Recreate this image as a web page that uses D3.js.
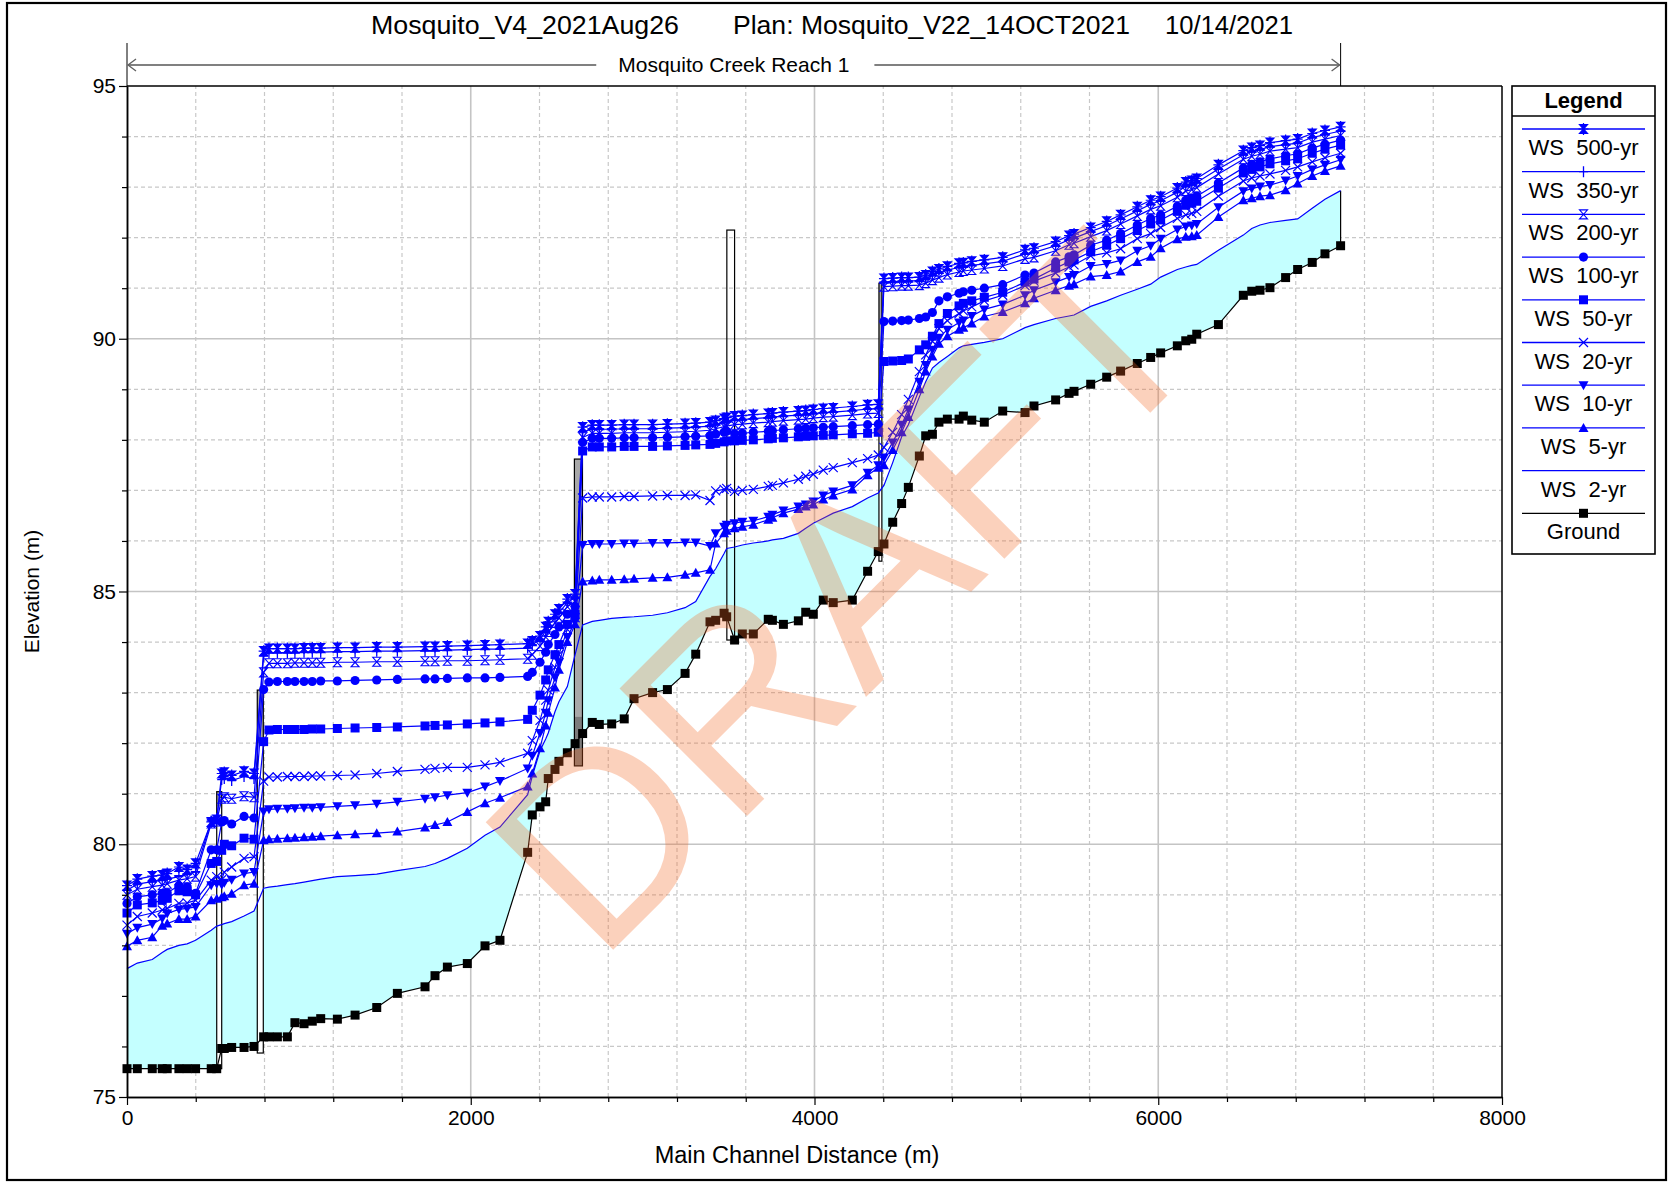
<!DOCTYPE html>
<html><head><meta charset="utf-8">
<script src="https://cdn.jsdelivr.net/npm/d3@7"></script>
<style>
html,body{margin:0;padding:0;background:#fff;}
svg{display:block;font-family:"Liberation Sans",Arial,sans-serif;}
text{white-space:pre;}
</style></head><body>
<svg id="chart" width="1671" height="1182"></svg>
<script>
// ---------------- DATA ----------------
const titleParts = ["Mosquito_V4_2021Aug26", "Plan: Mosquito_V22_14OCT2021", "10/14/2021"];
const reachName = "Mosquito Creek Reach 1";
const reachExtent = [0, 7061];
const xLabel = "Main Channel Distance (m)";
const yLabel = "Elevation (m)";
const xTicks = [0, 2000, 4000, 6000, 8000];
const yTicks = [75, 80, 85, 90, 95];
const watermark = "DRAFT";

const stations = [
  0, 60, 147, 205, 234, 302, 350, 399, 490, 522,
  551, 566, 609, 681, 739,
  795, 826, 875, 933, 977, 1030, 1078, 1127, 1224, 1327, 1453, 1573, 1734, 1792, 1864, 1980, 2083, 2170, 2331, 2358, 2403, 2436, 2451, 2490, 2513, 2562, 2607,
  2651, 2707, 2748, 2820, 2893, 2950, 3058, 3144, 3247, 3309, 3392, 3425, 3474, 3489,
  3535, 3580, 3644, 3731, 3755, 3819, 3906, 3949, 3993, 4051, 4109, 4220, 4309, 4371,
  4404, 4455, 4507, 4546, 4610, 4647, 4686, 4724, 4773, 4841, 4866, 4915, 4988, 5095, 5225, 5277, 5403, 5481, 5510, 5607, 5700, 5781, 5878, 5956, 6014, 6111, 6160, 6195, 6224, 6350, 6495, 6544, 6592, 6650, 6741, 6811, 6896, 6970, 7061
];
const ground = [
  75.56, 75.56, 75.56, 75.56, 75.56, 75.56, 75.56, 75.56, 75.56, 75.56,
  75.96, 75.96, 75.98, 75.98, 76.00,
  76.19, 76.19, 76.19, 76.19, 76.47, 76.45, 76.50, 76.55, 76.54, 76.62, 76.77, 77.05, 77.18, 77.40, 77.57, 77.64, 77.99, 78.10, 79.84, 80.58, 80.74, 80.84, 81.30, 81.48, 81.64, 81.81, 81.99,
  82.19, 82.41, 82.37, 82.38, 82.48, 82.88, 83.00, 83.06, 83.38, 83.76, 84.40, 84.43, 84.57, 84.50,
  84.04, 84.16, 84.16, 84.45, 84.43, 84.35, 84.42, 84.59, 84.55, 84.83, 84.78, 84.83, 85.40, 85.79,
  85.94, 86.37, 86.74, 87.06, 87.68, 88.08, 88.11, 88.35, 88.41, 88.41, 88.47, 88.39, 88.35, 88.57, 88.54, 88.67, 88.79, 88.92, 88.96, 89.10, 89.24, 89.36, 89.51, 89.63, 89.72, 89.86, 89.96, 89.99, 90.09, 90.28, 90.86, 90.94, 90.96, 91.01, 91.21, 91.37, 91.51, 91.68, 91.84
];
const ws2 = [
  77.54, 77.65, 77.72, 77.86, 77.92, 78.00, 78.03, 78.10, 78.30, 78.38,
  78.41, 78.43, 78.47, 78.58, 78.68,
  79.13, 79.15, 79.17, 79.20, 79.22, 79.25, 79.28, 79.31, 79.36, 79.38, 79.41, 79.48, 79.56, 79.62, 79.72, 79.92, 80.18, 80.34, 80.98, 81.35, 81.85, 82.08, 82.20, 82.62, 82.82, 83.12, 83.75,
  84.34, 84.41, 84.43, 84.47, 84.49, 84.50, 84.53, 84.58, 84.68, 84.80, 85.30, 85.45, 85.75, 85.85,
  85.88, 85.92, 85.96, 86.00, 86.02, 86.05, 86.15, 86.25, 86.35, 86.45, 86.55, 86.68, 86.85, 86.95,
  87.10, 87.55, 88.06, 88.30, 88.85, 89.15, 89.42, 89.53, 89.65, 89.82, 89.86, 89.89, 89.93, 90.00, 90.22, 90.28, 90.40, 90.45, 90.47, 90.64, 90.75, 90.86, 90.98, 91.08, 91.22, 91.37, 91.42, 91.45, 91.47, 91.75, 92.05, 92.18, 92.25, 92.30, 92.34, 92.37, 92.58, 92.76, 92.93
];
const ws5 = [
  77.98, 78.10, 78.16, 78.39, 78.43, 78.52, 78.52, 78.57, 78.89, 78.92,
  78.95, 78.97, 79.02, 79.19, 79.22,
  80.08, 80.10, 80.11, 80.12, 80.13, 80.14, 80.15, 80.16, 80.18, 80.20, 80.22, 80.25, 80.33, 80.38, 80.44, 80.64, 80.81, 80.92, 81.14, 81.40, 81.90, 82.35, 82.60, 83.10, 83.45, 84.00, 84.35,
  85.20, 85.22, 85.23, 85.23, 85.24, 85.25, 85.27, 85.28, 85.33, 85.37, 85.43, 85.95, 86.15, 86.20,
  86.25, 86.28, 86.32, 86.42, 86.46, 86.55, 86.63, 86.68, 86.72, 86.82, 86.90, 87.02, 87.30, 87.45,
  87.50, 87.80, 88.15, 88.45, 89.00, 89.35, 89.65, 89.90, 90.05, 90.18, 90.22, 90.30, 90.44, 90.53, 90.70, 90.80, 90.96, 91.05, 91.08, 91.23, 91.26, 91.33, 91.52, 91.62, 91.79, 91.97, 92.02, 92.03, 92.05, 92.41, 92.74, 92.78, 92.82, 92.84, 92.94, 93.07, 93.22, 93.32, 93.42
];
const ws10 = [
  78.23, 78.35, 78.42, 78.53, 78.63, 78.71, 78.73, 78.76, 79.19, 79.22,
  79.20, 79.24, 79.30, 79.42, 79.45,
  80.65, 80.69, 80.70, 80.70, 80.71, 80.72, 80.72, 80.73, 80.75, 80.77, 80.80, 80.84, 80.90, 80.93, 80.97, 81.02, 81.14, 81.25, 81.50, 81.75, 82.20, 82.60, 82.85, 83.30, 83.60, 84.10, 84.40,
  85.92, 85.94, 85.94, 85.94, 85.95, 85.95, 85.96, 85.96, 85.97, 85.97, 85.90, 86.15, 86.28, 86.32,
  86.35, 86.38, 86.40, 86.48, 86.52, 86.60, 86.68, 86.72, 86.78, 86.90, 86.98, 87.10, 87.35, 87.50,
  87.65, 87.95, 88.30, 88.60, 89.15, 89.48, 89.78, 90.02, 90.18, 90.32, 90.36, 90.45, 90.58, 90.68, 90.86, 90.96, 91.12, 91.22, 91.26, 91.44, 91.48, 91.55, 91.74, 91.84, 91.98, 92.16, 92.22, 92.24, 92.27, 92.60, 92.92, 92.97, 93.01, 93.04, 93.13, 93.22, 93.35, 93.44, 93.54
];
const ws20 = [
  78.40, 78.57, 78.64, 78.70, 78.73, 78.83, 78.84, 78.89, 79.29, 79.36,
  79.30, 79.45, 79.55, 79.72, 79.75,
  81.25, 81.33, 81.33, 81.34, 81.34, 81.34, 81.35, 81.35, 81.36, 81.37, 81.40, 81.44, 81.48, 81.50, 81.52, 81.52, 81.57, 81.62, 81.80, 82.05, 82.45, 82.85, 83.05, 83.50, 83.75, 84.25, 84.48,
  86.85, 86.87, 86.87, 86.87, 86.88, 86.88, 86.89, 86.90, 86.90, 86.91, 86.80, 86.99, 87.02, 87.04,
  86.98, 87.00, 87.02, 87.08, 87.10, 87.15, 87.22, 87.28, 87.32, 87.40, 87.45, 87.55, 87.63, 87.70,
  87.85, 88.15, 88.50, 88.80, 89.35, 89.68, 89.95, 90.20, 90.36, 90.50, 90.55, 90.63, 90.75, 90.86, 91.05, 91.14, 91.30, 91.42, 91.46, 91.64, 91.70, 91.78, 91.98, 92.08, 92.20, 92.38, 92.45, 92.48, 92.52, 92.82, 93.12, 93.18, 93.22, 93.26, 93.33, 93.40, 93.50, 93.58, 93.67
];
const ws50 = [
  78.64, 78.80, 78.84, 78.89, 78.93, 79.08, 79.06, 79.00, 79.62, 79.66,
  79.88, 80.00, 79.97, 80.12, 80.10,
  82.03, 82.26, 82.27, 82.27, 82.27, 82.27, 82.28, 82.28, 82.29, 82.30, 82.31, 82.32, 82.34, 82.35, 82.36, 82.38, 82.40, 82.42, 82.47, 82.65, 82.95, 83.25, 83.45, 83.75, 83.95, 84.35, 84.55,
  87.78, 87.86, 87.86, 87.86, 87.87, 87.87, 87.87, 87.88, 87.89, 87.90, 87.91, 87.93, 87.96, 87.98,
  87.98, 87.99, 88.00, 88.02, 88.03, 88.04, 88.06, 88.07, 88.08, 88.09, 88.10, 88.12, 88.13, 88.15,
  89.55, 89.56, 89.57, 89.60, 89.78, 89.88, 90.05, 90.30, 90.50, 90.65, 90.70, 90.75, 90.82, 90.92, 91.12, 91.18, 91.40, 91.52, 91.56, 91.72, 91.85, 91.98, 92.14, 92.27, 92.35, 92.52, 92.64, 92.68, 92.72, 92.98, 93.28, 93.35, 93.40, 93.46, 93.52, 93.56, 93.67, 93.75, 93.83
];
const ws100 = [
  78.83, 78.96, 79.00, 79.03, 79.04, 79.18, 79.16, 79.03, 79.89, 79.89,
  80.44, 80.47, 80.40, 80.55, 80.52,
  83.06, 83.21, 83.22, 83.22, 83.22, 83.22, 83.22, 83.23, 83.23, 83.24, 83.25, 83.26, 83.27, 83.27, 83.28, 83.29, 83.29, 83.30, 83.32, 83.40, 83.60, 83.80, 83.95, 84.15, 84.30, 84.55, 84.70,
  87.95, 88.03, 88.03, 88.03, 88.04, 88.04, 88.04, 88.05, 88.06, 88.07, 88.08, 88.11, 88.15, 88.17,
  88.12, 88.13, 88.15, 88.17, 88.18, 88.20, 88.22, 88.23, 88.24, 88.25, 88.26, 88.28, 88.30, 88.31,
  90.34, 90.35, 90.36, 90.37, 90.40, 90.43, 90.52, 90.75, 90.83, 90.90, 90.93, 90.96, 91.00, 91.07, 91.26, 91.30, 91.52, 91.62, 91.66, 91.85, 91.95, 92.08, 92.25, 92.38, 92.45, 92.62, 92.74, 92.78, 92.82, 93.08, 93.38, 93.45, 93.50, 93.56, 93.62, 93.66, 93.77, 93.85, 93.93
];
const ws200 = [
  79.00, 79.11, 79.16, 79.19, 79.22, 79.29, 79.32, 79.36, 80.41, 80.45,
  80.90, 80.93, 80.90, 80.95, 80.93,
  83.40, 83.58, 83.58, 83.58, 83.59, 83.59, 83.59, 83.59, 83.60, 83.60, 83.61, 83.61, 83.62, 83.62, 83.63, 83.63, 83.64, 83.65, 83.67, 83.75, 83.92, 84.10, 84.20, 84.38, 84.48, 84.70, 84.80,
  88.05, 88.13, 88.13, 88.13, 88.14, 88.14, 88.14, 88.15, 88.16, 88.17, 88.19, 88.22, 88.26, 88.27,
  88.30, 88.31, 88.33, 88.35, 88.36, 88.38, 88.40, 88.41, 88.43, 88.45, 88.46, 88.49, 88.52, 88.53,
  91.03, 91.04, 91.05, 91.05, 91.06, 91.10, 91.16, 91.21, 91.27, 91.32, 91.34, 91.36, 91.39, 91.44, 91.58, 91.61, 91.74, 91.86, 91.89, 92.02, 92.14, 92.27, 92.43, 92.56, 92.63, 92.80, 92.92, 92.95, 92.99, 93.26, 93.55, 93.61, 93.65, 93.71, 93.75, 93.78, 93.89, 93.95, 94.02
];
const ws350 = [
  79.09, 79.21, 79.26, 79.29, 79.31, 79.36, 79.40, 79.46, 80.46, 80.50,
  81.28, 81.30, 81.26, 81.34, 81.30,
  83.72, 83.79, 83.79, 83.79, 83.79, 83.80, 83.80, 83.80, 83.81, 83.81, 83.82, 83.82, 83.83, 83.83, 83.84, 83.85, 83.86, 83.86, 83.88, 83.95, 84.05, 84.22, 84.33, 84.48, 84.58, 84.78, 84.88,
  88.16, 88.21, 88.21, 88.21, 88.22, 88.22, 88.22, 88.23, 88.24, 88.25, 88.27, 88.30, 88.34, 88.36,
  88.39, 88.40, 88.42, 88.44, 88.45, 88.47, 88.49, 88.50, 88.52, 88.54, 88.55, 88.58, 88.61, 88.62,
  91.12, 91.13, 91.13, 91.14, 91.15, 91.18, 91.25, 91.30, 91.36, 91.41, 91.43, 91.45, 91.48, 91.53, 91.68, 91.71, 91.84, 91.96, 91.99, 92.12, 92.24, 92.37, 92.53, 92.66, 92.73, 92.90, 93.02, 93.05, 93.09, 93.36, 93.64, 93.70, 93.74, 93.80, 93.84, 93.87, 93.98, 94.04, 94.11
];
const ws500 = [
  79.18, 79.31, 79.37, 79.39, 79.42, 79.55, 79.50, 79.62, 80.44, 80.49,
  81.40, 81.42, 81.36, 81.44, 81.40,
  83.82, 83.87, 83.87, 83.87, 83.87, 83.88, 83.88, 83.88, 83.89, 83.89, 83.90, 83.90, 83.91, 83.91, 83.92, 83.93, 83.94, 83.95, 83.97, 84.02, 84.12, 84.30, 84.40, 84.55, 84.65, 84.85, 84.95,
  88.25, 88.29, 88.29, 88.29, 88.30, 88.30, 88.30, 88.31, 88.32, 88.33, 88.35, 88.38, 88.42, 88.44,
  88.47, 88.48, 88.50, 88.52, 88.53, 88.55, 88.57, 88.58, 88.60, 88.62, 88.63, 88.66, 88.69, 88.70,
  91.19, 91.20, 91.21, 91.21, 91.22, 91.26, 91.33, 91.38, 91.43, 91.49, 91.50, 91.53, 91.56, 91.61, 91.76, 91.79, 91.92, 92.04, 92.07, 92.20, 92.32, 92.45, 92.61, 92.74, 92.81, 92.98, 93.10, 93.13, 93.17, 93.44, 93.72, 93.78, 93.82, 93.88, 93.92, 93.95, 94.06, 94.12, 94.19
];

// hydraulic structures (bridges / culverts)
const structLeft   = [522, 758, 2603, 3490, 4375];
const structRight  = [551, 793, 2650, 3535, 4392];
const structTop    = [81.04, 83.05, 87.62, 92.15, 91.10];
const structBottom = [75.56, 75.87, 81.55, 84.04, 85.60];
const structDeckLow = [80.75, 82.00, 82.52, 92.15, 89.60];

const legendNames = ["WS  500-yr","WS  350-yr","WS  200-yr","WS  100-yr","WS  50-yr","WS  20-yr","WS  10-yr","WS  5-yr","WS  2-yr","Ground"];

// ---------------- CHART ----------------
const svg = d3.select("#chart");
const FONT = '"Liberation Sans", Arial, sans-serif';
const BLUE = "#0000ff";
const M = {left:127, right:1502, top:86, bottom:1097};
const x = d3.scaleLinear().domain([0, 8000]).range([M.left, M.right]);
const y = d3.scaleLinear().domain([75, 95]).range([M.bottom, M.top]);

// outer frame
svg.append("rect").attr("x",7).attr("y",3).attr("width",1659).attr("height",1177)
  .attr("fill","#fff").attr("stroke","#000").attr("stroke-width",2.2);

// grid
const grid = svg.append("g");
d3.range(400, 8000, 400).forEach(v => {
  const major = v % 2000 === 0;
  grid.append("line").attr("x1",x(v)).attr("x2",x(v)).attr("y1",y(75)).attr("y2",y(95))
    .attr("stroke", major ? "#c4c4c4" : "#c8c8c8").attr("stroke-width", major ? 1.6 : 1.2)
    .attr("stroke-dasharray", major ? null : "4,3");
});
d3.range(76, 95, 1).forEach(v => {
  const major = v % 5 === 0;
  grid.append("line").attr("x1",x(0)).attr("x2",x(8000)).attr("y1",y(v)).attr("y2",y(v))
    .attr("stroke", major ? "#c4c4c4" : "#c8c8c8").attr("stroke-width", major ? 1.6 : 1.2)
    .attr("stroke-dasharray", major ? null : "4,3");
});

// 2-yr water fill
const idx = d3.range(stations.length);
const area = d3.area().x(i => x(stations[i])).y0(i => y(ground[i])).y1(i => y(ws2[i]));
svg.append("path").attr("d", area(idx)).attr("fill","#c4ffff").attr("stroke","none");
const last = stations.length - 1;
svg.append("line").attr("x1",x(stations[last])).attr("x2",x(stations[last]))
  .attr("y1",y(ground[last])).attr("y2",y(ws2[last])).attr("stroke","#000").attr("stroke-width",1.2);

// structures
const sg = svg.append("g");
structLeft.forEach((l, k) => {
  const r = structRight[k];
  const open = k === 3;
  sg.append("rect").attr("x",x(l)).attr("y",y(structTop[k]))
    .attr("width",x(r)-x(l)).attr("height",y(structBottom[k])-y(structTop[k]))
    .attr("fill", open ? "none" : (k === 2 ? "#b0b0b0" : "#ffffff"));
  if (!open) {
    sg.append("rect").attr("x",x(l)).attr("y",y(structTop[k]))
      .attr("width",x(r)-x(l)).attr("height",y(structDeckLow[k])-y(structTop[k]))
      .attr("fill","#a8a8a8");
  }
  if (k === 2) {
    sg.append("rect").attr("x",x(l)).attr("y",y(structDeckLow[k]))
      .attr("width",x(r)-x(l)).attr("height",y(structBottom[k])-y(structDeckLow[k]))
      .attr("fill","#7c7c7c");
  }
  sg.append("rect").attr("x",x(l)).attr("y",y(structTop[k]))
    .attr("width",x(r)-x(l)).attr("height",y(structBottom[k])-y(structTop[k]))
    .attr("fill","none").attr("stroke","#000").attr("stroke-width",1.2);
});

// marker shapes
const SYM = {
  star: "M-4,-4.5L4,-4.5L-4,4.5L4,4.5Z M0,-6V6 M-5,0H5",
  plus: "M0,-5.5V5.5M-4.5,0H4.5",
  hourglass: "M-4,-4.5H4L-4,4.5H4Z",
  circle: d3.symbol(d3.symbolCircle, 66)(),
  square: "M-4.5,-4.5H4.5V4.5H-4.5Z",
  cross: "M-4.5,-4.5L4.5,4.5M-4.5,4.5L4.5,-4.5",
  tdown: "M-5,-4H5L0,5Z",
  tup: "M-5,4H5L0,-5Z",
  gsquare: "M-4.5,-4.5H4.5V4.5H-4.5Z"
};
const STYLE = {
  star: {fill:BLUE, stroke:BLUE, sw:1.2},
  plus: {fill:"none", stroke:BLUE, sw:1.3},
  hourglass: {fill:"none", stroke:BLUE, sw:1.1},
  circle: {fill:BLUE, stroke:"none", sw:0},
  square: {fill:BLUE, stroke:"none", sw:0},
  cross: {fill:"none", stroke:BLUE, sw:1.2},
  tdown: {fill:BLUE, stroke:"none", sw:0},
  tup: {fill:BLUE, stroke:"none", sw:0},
  gsquare: {fill:"#000", stroke:"none", sw:0}
};

const series = [
  {name:legendNames[0], values:ws500, sym:"star",      color:BLUE},
  {name:legendNames[1], values:ws350, sym:"plus",      color:BLUE},
  {name:legendNames[2], values:ws200, sym:"hourglass", color:BLUE},
  {name:legendNames[3], values:ws100, sym:"circle",    color:BLUE},
  {name:legendNames[4], values:ws50,  sym:"square",    color:BLUE},
  {name:legendNames[5], values:ws20,  sym:"cross",     color:BLUE},
  {name:legendNames[6], values:ws10,  sym:"tdown",     color:BLUE},
  {name:legendNames[7], values:ws5,   sym:"tup",       color:BLUE},
  {name:legendNames[8], values:ws2,   sym:null,        color:BLUE},
  {name:legendNames[9], values:ground,sym:"gsquare",   color:"#000"}
];

const line = vals => d3.line().defined(i => vals[i] != null).x(i => x(stations[i])).y(i => y(vals[i]))(idx);

function drawMarker(g, sym, px, py) {
  const st = STYLE[sym];
  g.append("path").attr("d", SYM[sym]).attr("transform", `translate(${px},${py})`)
    .attr("fill", st.fill).attr("stroke", st.stroke).attr("stroke-width", st.sw);
}

// draw ground first, then WS from 2-yr upward
const plotG = svg.append("g");
[9, 8, 7, 6, 5, 4, 3, 2, 1, 0].forEach(si => {
  const s = series[si];
  plotG.append("path").attr("d", line(s.values)).attr("fill","none")
    .attr("stroke", s.color).attr("stroke-width", 1.2);
  if (s.sym) {
    const mg = plotG.append("g");
    idx.forEach(i => { if (s.values[i] != null) drawMarker(mg, s.sym, x(stations[i]), y(s.values[i])); });
  }
});

// axes
function styleAxis(g) {
  g.selectAll("path.domain").attr("stroke","#000").attr("stroke-width",1.5);
  g.selectAll(".tick line").attr("stroke","#000").attr("stroke-width",1.2);
  g.selectAll(".tick text").attr("font-size",21).attr("font-family",FONT).attr("fill","#000");
}
const xMinorAxis = d3.axisBottom(x).tickValues(d3.range(400, 8000, 400).filter(v => v % 2000)).tickSize(5).tickSizeOuter(0).tickFormat("");
const xMajorAxis = d3.axisBottom(x).tickValues(xTicks).tickSize(8).tickSizeOuter(0).tickPadding(5).tickFormat(d3.format("d"));
const yMinorAxis = d3.axisLeft(y).tickValues(d3.range(76, 95).filter(v => v % 5)).tickSize(5).tickSizeOuter(0).tickFormat("");
const yMajorAxis = d3.axisLeft(y).tickValues(yTicks).tickSize(8).tickSizeOuter(0).tickPadding(3).tickFormat(d3.format("d"));
svg.append("g").attr("transform",`translate(0,${M.bottom})`).call(xMinorAxis).call(styleAxis);
svg.append("g").attr("transform",`translate(0,${M.bottom})`).call(xMajorAxis).call(styleAxis);
svg.append("g").attr("transform",`translate(${M.left},0)`).call(yMinorAxis).call(styleAxis);
svg.append("g").attr("transform",`translate(${M.left},0)`).call(yMajorAxis).call(styleAxis);
// top and right frame of plot
svg.append("line").attr("x1",M.left).attr("x2",M.right).attr("y1",M.top).attr("y2",M.top).attr("stroke","#000").attr("stroke-width",1.5);
svg.append("line").attr("x1",M.right).attr("x2",M.right).attr("y1",M.top).attr("y2",M.bottom).attr("stroke","#000").attr("stroke-width",1.5);

// axis titles
svg.append("text").attr("x",797).attr("y",1163).attr("text-anchor","middle")
  .attr("font-size",23.5).attr("font-family",FONT).text(xLabel);
svg.append("text").attr("transform",`translate(39,${(M.top+M.bottom)/2}) rotate(-90)`).attr("text-anchor","middle")
  .attr("font-size",21).attr("font-family",FONT).text(yLabel);

// title (three blocks, as in the original layout)
const titleX = [371, 733, 1165];
const titleW = [308, 397, 128];
titleParts.forEach((t, k) => {
  svg.append("text").attr("x",titleX[k]).attr("y",34).attr("font-size",25).attr("font-family",FONT)
    .attr("textLength", titleW[k]).attr("lengthAdjust","spacingAndGlyphs").text(t);
});

// reach bar
const rx0 = x(reachExtent[0]), rx1 = x(reachExtent[1]);
const ry = 65;
[rx0, rx1].forEach(v => svg.append("line").attr("x1",v).attr("x2",v).attr("y1",43).attr("y2",M.top).attr("stroke","#000").attr("stroke-width",1));
const rText = svg.append("text").attr("x",(rx0+rx1)/2).attr("y",ry+7).attr("text-anchor","middle")
  .attr("font-size",21).attr("font-family",FONT).text(reachName);
const tw = rText.node().getComputedTextLength();
const midX = (rx0+rx1)/2;
svg.append("line").attr("x1",rx0+1).attr("x2",midX - tw/2 - 22).attr("y1",ry).attr("y2",ry).attr("stroke","#808080").attr("stroke-width",2);
svg.append("line").attr("x1",midX + tw/2 + 25).attr("x2",rx1-1).attr("y1",ry).attr("y2",ry).attr("stroke","#808080").attr("stroke-width",2);
svg.append("path").attr("d",`M${rx0+9},${ry-6}L${rx0+1},${ry}L${rx0+9},${ry+6}`).attr("fill","none").attr("stroke","#606060").attr("stroke-width",1.3);
svg.append("path").attr("d",`M${rx1-9},${ry-6}L${rx1-1},${ry}L${rx1-9},${ry+6}`).attr("fill","none").attr("stroke","#606060").attr("stroke-width",1.3);

// legend
const LG = {x0:1512, x1:1655, y0:86, y1:554};
svg.append("rect").attr("x",LG.x0).attr("y",LG.y0).attr("width",LG.x1-LG.x0).attr("height",LG.y1-LG.y0)
  .attr("fill","#fff").attr("stroke","#000").attr("stroke-width",1.6);
svg.append("line").attr("x1",LG.x0).attr("x2",LG.x1).attr("y1",116).attr("y2",116).attr("stroke","#000").attr("stroke-width",1.4);
const lcx = (LG.x0+LG.x1)/2;
svg.append("text").attr("x",lcx).attr("y",108).attr("text-anchor","middle").attr("font-size",22)
  .attr("font-weight","bold").attr("font-family",FONT).text("Legend");
series.forEach((s, k) => {
  const ly = 129 + k*42.7;
  svg.append("line").attr("x1",1522).attr("x2",1645).attr("y1",ly).attr("y2",ly)
    .attr("stroke", s.color).attr("stroke-width",1.3);
  if (s.sym) drawMarker(svg, s.sym, lcx, ly);
  svg.append("text").attr("x",lcx).attr("y",ly+26).attr("text-anchor","middle").attr("font-size",22)
    .attr("font-family",FONT).text(s.name);
});

// watermark
svg.append("text").attr("transform","translate(598,965) rotate(-45)")
  .attr("font-size",262).attr("font-family",FONT).attr("fill","rgb(245,105,38)").attr("opacity",0.3)
  .text(watermark);
</script>
</body></html>
